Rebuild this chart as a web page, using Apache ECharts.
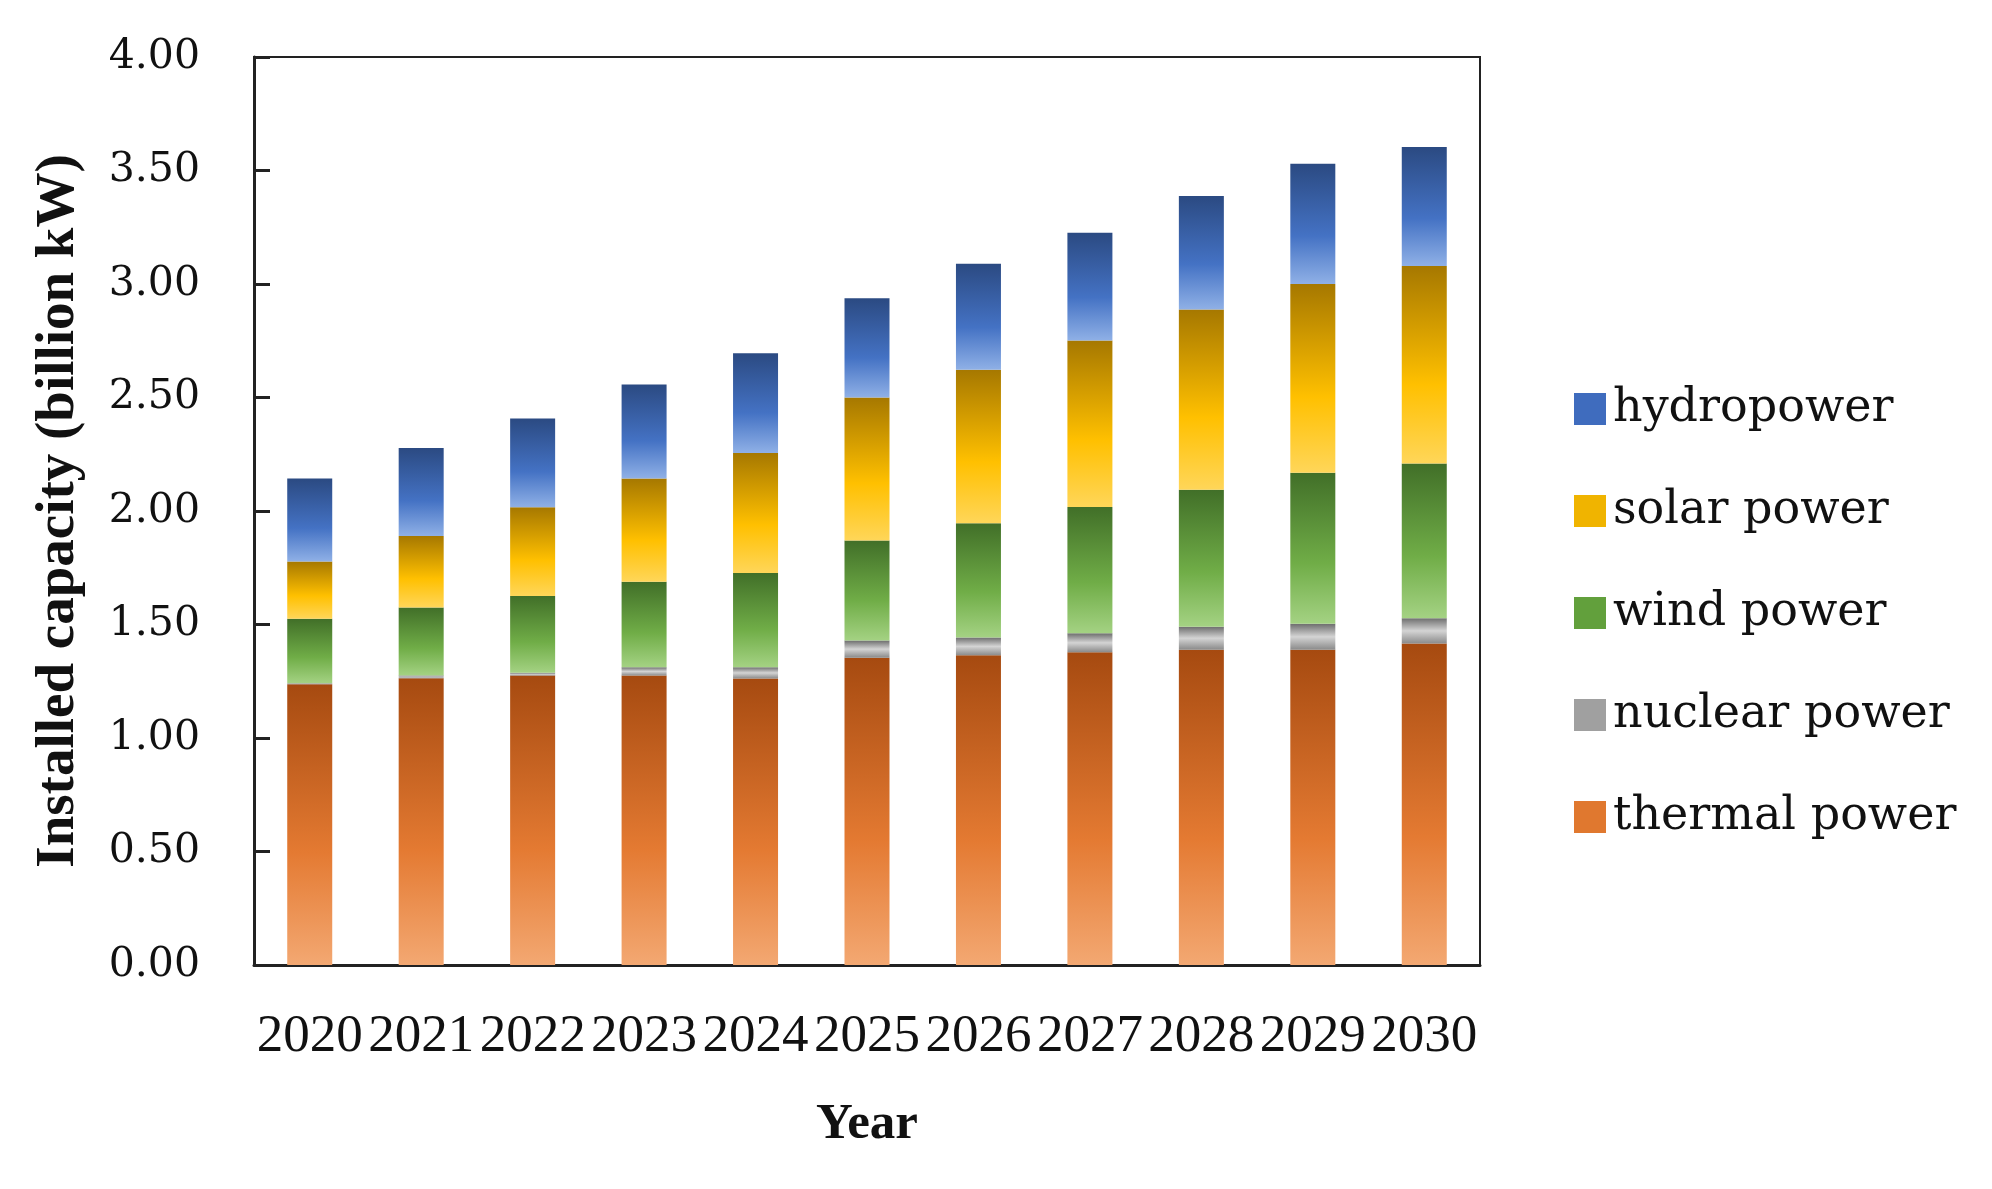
<!DOCTYPE html>
<html>
<head>
<meta charset="utf-8">
<script src="https://cdn.jsdelivr.net/npm/echarts@6/dist/echarts.min.js"></script>
<style>
html,body{margin:0;padding:0;background:#fff;}
#chart{width:1992px;height:1189px;}
</style>
</head>
<body>
<div id="chart"></div>
<script>
const years = ['2020','2021','2022','2023','2024','2025','2026','2027','2028','2029','2030'];
const thermal = [1.237,1.263,1.275,1.275,1.262,1.354,1.364,1.378,1.389,1.389,1.416];
const nuclear = [0.004,0.012,0.012,0.037,0.050,0.075,0.079,0.083,0.101,0.114,0.112];
const wind    = [0.284,0.300,0.339,0.376,0.415,0.441,0.503,0.557,0.604,0.666,0.681];
const solar   = [0.253,0.315,0.391,0.455,0.529,0.630,0.676,0.733,0.794,0.831,0.870];
const hydro   = [0.365,0.388,0.391,0.414,0.439,0.437,0.467,0.475,0.500,0.530,0.524];
const yTicks  = [0,0.5,1,1.5,2,2.5,3,3.5,4];

function grad(top, mid, bottom){
  return new echarts.graphic.LinearGradient(0,0,0,1,[
    {offset:0,color:top},{offset:0.6,color:mid},{offset:1,color:bottom}]);
}
const styles = {
  'thermal power': {c: grad('#a64a10','#e47a32','#f3a872'), solid:'#e0782f'},
  'nuclear power': {c: new echarts.graphic.LinearGradient(0,0,0,1,[
      {offset:0,color:'#6e6e6e'},{offset:0.5,color:'#d4d4d4'},{offset:1,color:'#8a8a8a'}]), solid:'#a0a0a0'},
  'wind power': {c: grad('#416f28','#70ad47','#a4d283'), solid:'#62a03c'},
  'solar power': {c: grad('#a67800','#ffc000','#ffd659'), solid:'#f0b400'},
  'hydropower': {c: grad('#2b4a82','#4472c4','#8fb0e6'), solid:'#3f6cbe'}
};
const seriesDefs = [
  ['thermal power', thermal],
  ['nuclear power', nuclear],
  ['wind power', wind],
  ['solar power', solar],
  ['hydropower', hydro]
];
const chart = echarts.init(document.getElementById('chart'));
chart.setOption({
  animation:false,
  backgroundColor:'#ffffff',
  grid:{left:254,right:512,top:57,bottom:224,show:true,borderColor:'#222',borderWidth:2,backgroundColor:'transparent'},
  legend:{
    orient:'vertical', left:1569, top:380,
    itemWidth:32, itemHeight:32, itemGap:54,
    textStyle:{fontFamily:'DejaVu Serif',fontSize:46,color:'#111',lineHeight:48,padding:[0,0,0,2]},
    data:['hydropower','solar power','wind power','nuclear power','thermal power'].map(n=>({name:n,icon:'rect',itemStyle:{color:styles[n].solid}}))
  },
  xAxis:{
    type:'category', data:years,
    axisLine:{show:true,lineStyle:{color:'#222',width:3}},
    axisTick:{show:false},
    axisLabel:{interval:0,margin:46,fontFamily:'Liberation Serif',fontSize:53,color:'#111'},
    name:'Year', nameLocation:'middle', nameGap:134,
    nameTextStyle:{fontFamily:'Liberation Serif',fontWeight:'bold',fontSize:51,color:'#111'}
  },
  yAxis:{
    type:'value', min:0, max:4, interval:0.5,
    axisLine:{show:true,lineStyle:{color:'#222',width:3}},
    axisTick:{show:true,inside:true,length:16,lineStyle:{color:'#222',width:3}},
    splitLine:{show:false},
    axisLabel:{margin:54,fontFamily:'DejaVu Serif',fontSize:41,color:'#111',
      formatter:v=>yTicks.indexOf(v)>=0 ? v.toFixed(2) : ''},
    name:'Installed capacity (billion kW)', nameLocation:'middle', nameGap:168, nameRotate:90,
    nameTextStyle:{fontFamily:'Liberation Serif',fontWeight:'bold',fontSize:55,color:'#111'}
  },
  series: seriesDefs.map(([n,d])=>({
    name:n, type:'bar', stack:'total', data:d, barWidth:45,
    itemStyle:{color:styles[n].c},
    emphasis:{disabled:true}
  }))
});
</script>
</body>
</html>
